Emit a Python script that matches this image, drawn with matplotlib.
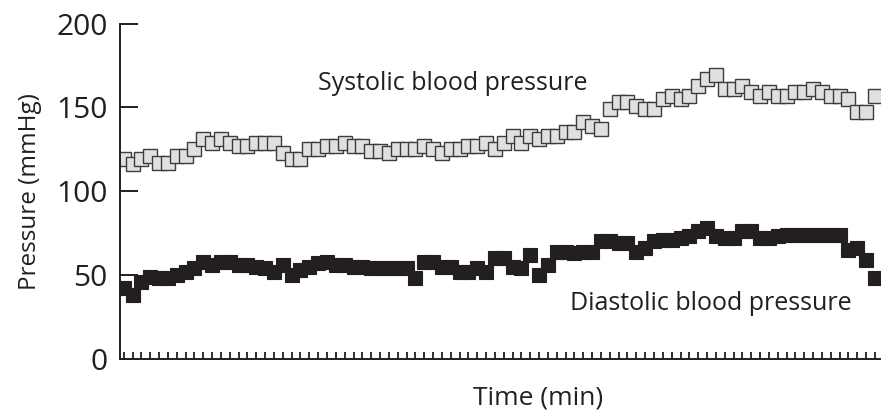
"""
Systolic and diastolic blood pressure over time, square markers.
"""
import numpy as np
import matplotlib
matplotlib.use("Agg")
import matplotlib.pyplot as plt

systolic = [119, 116, 119, 121, 117, 117, 121, 121, 125, 131,
            129, 131, 129, 127, 127, 129, 129, 129, 123, 119,
            119, 125, 125, 127, 127, 129, 127, 127, 124, 124,
            123, 125, 125, 125, 127, 125, 123, 125, 125, 127,
            127, 129, 125, 129, 133, 129, 133, 131, 133, 133,
            135, 135, 141, 139, 137, 149, 153, 153, 151, 149,
            149, 155, 157, 155, 157, 163, 167, 169, 161, 161,
            163, 159, 157, 159, 157, 157, 159, 159, 161, 159,
            157, 157, 155, 147, 147, 157]
diastolic = [42, 38, 46, 49, 48, 48, 50, 52, 54, 58,
             56, 58, 58, 56, 56, 55, 54, 52, 56, 50,
             53, 55, 57, 58, 56, 56, 55, 55, 54, 54,
             54, 54, 54, 48, 58, 58, 55, 55, 52, 52,
             54, 52, 60, 60, 55, 54, 62, 50, 56, 64,
             64, 63, 64, 64, 70, 70, 69, 69, 64, 66,
             70, 71, 71, 72, 73, 76, 78, 73, 72, 72,
             76, 76, 72, 72, 73, 74, 74, 74, 74, 74,
             74, 74, 65, 66, 59, 48]
y_ticks = [0, 50, 100, 150, 200]

ink = "#231f20"
plt.rcParams["font.family"] = ["Open Sans", "DejaVu Sans"]

t = np.arange(len(systolic))

fig = plt.figure(figsize=(8.83, 4.11), dpi=100)
ax = fig.add_axes([0.1359, 0.127, 0.8607, 0.8158])

ax.plot(t, systolic, ls="none", marker="s", ms=9.6, mfc="#e0e0e0",
        mec="#3c3c3c", mew=1.0)
ax.plot(t, diastolic, ls="none", marker="s", ms=9.8, mfc=ink,
        mec=ink, mew=0.8)

ax.set_xlim(-0.42, len(t) - 1 + 0.57)
ax.set_ylim(0, 200)
ax.set_yticks(y_ticks)
ax.set_xticks(t)
ax.set_xticklabels([])

for side in ("top", "right"):
    ax.spines[side].set_visible(False)
for side in ("left", "bottom"):
    ax.spines[side].set_linewidth(1.4)
    ax.spines[side].set_color(ink)

ax.tick_params(axis="y", direction="in", length=13, width=1.4, colors=ink,
               labelsize=21.5, pad=9)
ax.tick_params(axis="x", direction="in", length=5, width=1.3, colors=ink)

ax.set_ylabel("Pressure (mmHg)", fontsize=17.5, color=ink, labelpad=10)
ax.set_xlabel("Time (min)", fontsize=19, color=ink, labelpad=16, x=0.55)

ax.text(0.4375, 0.82, "Systolic blood pressure", transform=ax.transAxes,
        fontsize=18, color=ink, ha="center", va="center")
ax.text(0.778, 0.165, "Diastolic blood pressure", transform=ax.transAxes,
        fontsize=18, color=ink, ha="center", va="center")

fig.savefig("out.png", dpi=100)
